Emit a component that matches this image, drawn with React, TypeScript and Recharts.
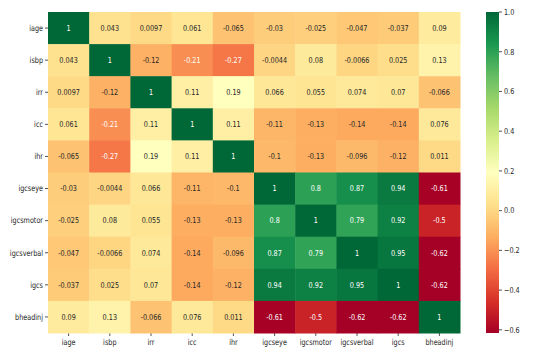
import React from 'react';
import { ScatterChart, Scatter, XAxis, YAxis } from 'recharts';

// Variable names shown on both axes
const labels = ['iage', 'isbp', 'irr', 'icc', 'ihr', 'igcseye', 'igcsmotor', 'igcsverbal', 'igcs', 'bheadinj'];

// Correlation rows (as annotated in the heatmap)
const iage = [1, 0.043, 0.0097, 0.061, -0.065, -0.03, -0.025, -0.047, -0.037, 0.09];
const isbp = [0.043, 1, -0.12, -0.21, -0.27, -0.0044, 0.08, -0.0066, 0.025, 0.13];
const irr = [0.0097, -0.12, 1, 0.11, 0.19, 0.066, 0.055, 0.074, 0.07, -0.066];
const icc = [0.061, -0.21, 0.11, 1, 0.11, -0.11, -0.13, -0.14, -0.14, 0.076];
const ihr = [-0.065, -0.27, 0.19, 0.11, 1, -0.1, -0.13, -0.096, -0.12, 0.011];
const igcseye = [-0.03, -0.0044, 0.066, -0.11, -0.1, 1, 0.8, 0.87, 0.94, -0.61];
const igcsmotor = [-0.025, 0.08, 0.055, -0.13, -0.13, 0.8, 1, 0.79, 0.92, -0.5];
const igcsverbal = [-0.047, -0.0066, 0.074, -0.14, -0.096, 0.87, 0.79, 1, 0.95, -0.62];
const igcs = [-0.037, 0.025, 0.07, -0.14, -0.12, 0.94, 0.92, 0.95, 1, -0.62];
const bheadinj = [0.09, 0.13, -0.066, 0.076, 0.011, -0.61, -0.5, -0.62, -0.62, 1];

const rows = [iage, isbp, irr, icc, ihr, igcseye, igcsmotor, igcsverbal, igcs, bheadinj];

// Colorbar ticks
const barTicks = [1.0, 0.8, 0.6, 0.4, 0.2, 0.0, -0.2, -0.4, -0.6];

const VMIN = -0.616;
const VMAX = 1;

// RdYlGn (colorbrewer 11)
const RDYLGN = ['#a50026', '#d73027', '#f46d43', '#fdae61', '#fee08b', '#ffffbf', '#d9ef8b', '#a6d96a', '#66bd63', '#1a9850', '#006837'];

const hex = (h: string) => [1, 3, 5].map(i => parseInt(h.slice(i, i + 2), 16));

const colorFor = (v: number) => {
  const t = Math.max(0, Math.min(1, (v - VMIN) / (VMAX - VMIN)));
  const p = t * (RDYLGN.length - 1);
  const i = Math.min(Math.floor(p), RDYLGN.length - 2);
  const f = p - i;
  const a = hex(RDYLGN[i]);
  const b = hex(RDYLGN[i + 1]);
  return a.map((c, k) => Math.round(c + (b[k] - c) * f));
};

const luminance = (rgb: number[]) => {
  const lin = rgb.map(c => {
    const s = c / 255;
    return s <= 0.03928 ? s / 12.92 : Math.pow((s + 0.055) / 1.055, 2.4);
  });
  return 0.2126 * lin[0] + 0.7152 * lin[1] + 0.0722 * lin[2];
};

const fmt = (v: number) => (v === 1 ? '1' : String(v));

const W = 536;
const H = 363;
const LEFT = 48;
const TOP = 12;
const PLOT_W = 412;
const PLOT_H = 321;
const CW = PLOT_W / 10;
const CH = PLOT_H / 10;
const FONT = 'DejaVu Sans, sans-serif';
const TEXT = '#262626';
const FS = 8.2;
const SX = 0.79; // the source image is squeezed horizontally

// text squeezed the same way as the reference
const SText = ({ x, y, anchor = 'start', baseline = 'central', fill = TEXT, children }: any) => (
  <text
    transform={`translate(${x},${y}) scale(${SX},1)`}
    textAnchor={anchor}
    dominantBaseline={baseline}
    fontSize={FS}
    fontFamily={FONT}
    fill={fill}
  >
    {children}
  </text>
);

const cellData = rows.flatMap((row, j) =>
  row.map((v, i) => ({ x: i + 0.5, y: j + 0.5, v }))
);

const centers = labels.map((_, i) => i + 0.5);

const HeatCell = (props: any) => {
  const { cx, cy, payload } = props;
  const rgb = colorFor(payload.v);
  const fill = `rgb(${rgb.join(',')})`;
  const textFill = luminance(rgb) > 0.408 ? TEXT : '#ffffff';
  return (
    <g>
      <rect x={cx - CW / 2} y={cy - CH / 2} width={CW + 0.5} height={CH + 0.5} fill={fill} />
      <SText x={cx} y={cy} anchor="middle" fill={textFill}>{fmt(payload.v)}</SText>
    </g>
  );
};

const XTick = (props: any) => (
  <SText x={props.x} y={props.y} anchor="middle" baseline="hanging">
    {labels[Math.floor(props.payload.value)]}
  </SText>
);

const YTick = (props: any) => (
  <SText x={props.x} y={props.y} anchor="end">
    {labels[Math.floor(props.payload.value)]}
  </SText>
);

const Colorbar = () => {
  const x = 486;
  const w = 13;
  const yOf = (v: number) => TOP + ((VMAX - v) / (VMAX - VMIN)) * PLOT_H;
  return (
    <svg width={W} height={H} style={{ position: 'absolute', left: 0, top: 0, pointerEvents: 'none' }}>
      <defs>
        <linearGradient id="cbar" x1="0" y1="1" x2="0" y2="0">
          {RDYLGN.map((c, i) => (
            <stop key={c} offset={i / (RDYLGN.length - 1)} stopColor={c} />
          ))}
        </linearGradient>
      </defs>
      <rect x={x} y={TOP} width={w} height={PLOT_H} fill="url(#cbar)" />
      {barTicks.map(v => (
        <g key={v}>
          <line x1={x + w} x2={x + w + 3} y1={yOf(v)} y2={yOf(v)} stroke={TEXT} strokeWidth={0.8} />
          <SText x={x + w + 5} y={yOf(v)}>{v.toFixed(1).replace('-', '\u2212')}</SText>
        </g>
      ))}
    </svg>
  );
};

export default function App() {
  return (
    <div style={{ position: 'absolute', left: 0, top: 0, width: W, height: H, background: '#fff' }}>
      <ScatterChart width={W} height={H} margin={{ top: TOP, right: W - LEFT - PLOT_W, bottom: 0, left: 0 }}>
        <XAxis
          type="number"
          dataKey="x"
          domain={[0, 10]}
          ticks={centers}
          interval={0}
          axisLine={false}
          tickSize={3}
          tickMargin={3}
          height={H - TOP - PLOT_H}
          tick={<XTick />}
          tickLine={{ stroke: TEXT, strokeWidth: 0.8 }}
        />
        <YAxis
          type="number"
          dataKey="y"
          domain={[0, 10]}
          ticks={centers}
          interval={0}
          reversed
          axisLine={false}
          tickSize={3}
          tickMargin={2}
          width={LEFT}
          tick={<YTick />}
          tickLine={{ stroke: TEXT, strokeWidth: 0.8 }}
        />
        <Scatter data={cellData} shape={HeatCell} isAnimationActive={false} />
      </ScatterChart>
      <Colorbar />
    </div>
  );
}
